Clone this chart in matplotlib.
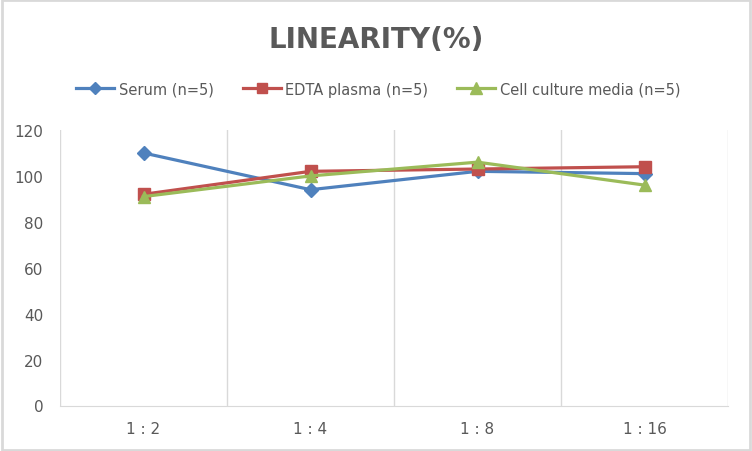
import matplotlib.pyplot as plt
from matplotlib.patches import Rectangle

# data
dilutions = ["1 : 2", "1 : 4", "1 : 8", "1 : 16"]
serum = [110, 94, 102, 101]
edta = [92, 102, 103, 104]
cell_media = [91, 100, 106, 96]

series_names = ["Serum (n=5)", "EDTA plasma (n=5)", "Cell culture media (n=5)"]
colors = ["#4f81bd", "#c0504d", "#9bbb59"]
markers = ["D", "s", "^"]
msizes = [7, 8.5, 9]

txt = "#595959"
grid = "#d9d9d9"

fig = plt.figure(figsize=(7.52, 4.52), dpi=100)
ax = fig.add_axes([60 / 752, 1 - 406.5 / 452, 668 / 752, 275.5 / 452])

x = list(range(len(dilutions)))
lines = []
for vals, name, c, m, ms in zip([serum, edta, cell_media], series_names, colors, markers, msizes):
    ln, = ax.plot(x, vals, color=c, lw=2.3, marker=m, ms=ms, label=name, zorder=3)
    lines.append(ln)

ax.set_xlim(-0.5, len(dilutions) - 0.5)
ax.set_ylim(0, 120)
ax.set_yticks(range(0, 121, 20))
ax.set_xticks(x)
ax.set_xticklabels(dilutions)

# vertical gridlines between categories (excel style)
for b in [i - 0.5 for i in range(len(dilutions) + 1)]:
    ax.axvline(b, color=grid, lw=1, zorder=1)

for s in ["top", "right", "left"]:
    ax.spines[s].set_visible(False)
ax.spines["bottom"].set_color(grid)
ax.tick_params(length=0, colors=txt, labelsize=11)
ax.tick_params(axis="x", pad=11)
ax.tick_params(axis="y", pad=12)

fig.text(0.5, 1 - 40 / 452, "LINEARITY(%)", ha="center", va="center",
         fontsize=20, fontweight="bold", color=txt)

fig.legend(handles=lines, loc="center", bbox_to_anchor=(0.503, 1 - 90 / 452), ncol=3,
           frameon=False, fontsize=10.5, labelcolor=txt, handlelength=2.6,
           handletextpad=0.3, columnspacing=2.0, markerscale=0.9)

# light grey frame around the chart
fig.add_artist(Rectangle((0.002, 0.003), 0.995, 0.994, transform=fig.transFigure,
                         fill=False, edgecolor=grid, lw=2))

fig.savefig("out.png", dpi=100)
